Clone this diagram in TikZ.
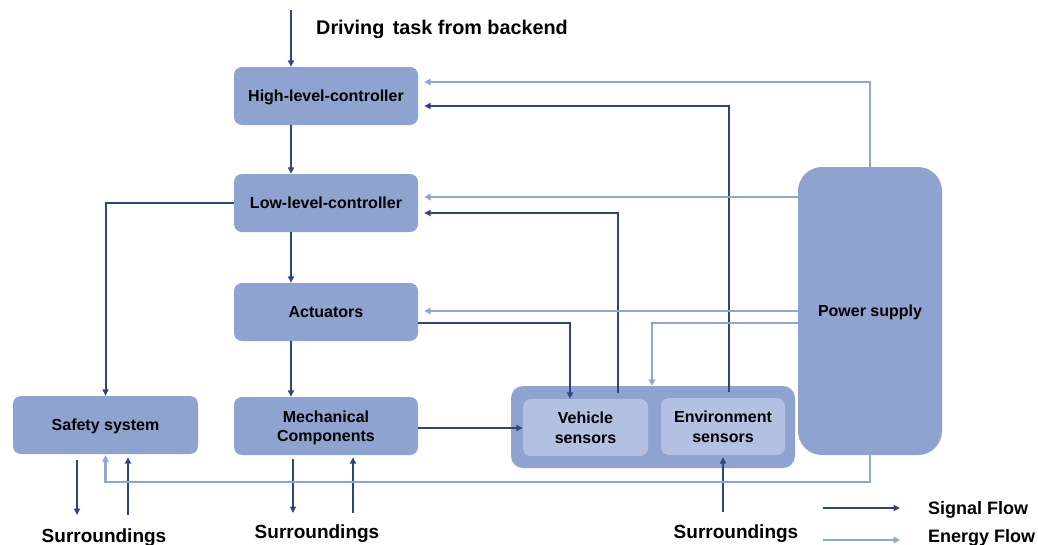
\documentclass[tikz,border=0pt]{standalone}
\usepackage{fontspec}
\setmainfont{Liberation Sans}
\usetikzlibrary{arrows.meta,calc}

\definecolor{boxblue}{RGB}{143,163,209}
\definecolor{innerblue}{RGB}{180,192,226}
\definecolor{sigcol}{RGB}{48,68,124}
\definecolor{encol}{RGB}{143,166,212}

\tikzset{
  box/.style={fill=boxblue, rounded corners=8pt, minimum width=184pt, minimum height=58pt,
    inner sep=0pt, align=center, text depth=0pt, font=\fontsize{16}{19.5}\selectfont\bfseries},
  innerbox/.style={box, fill=innerblue, minimum width=124pt, minimum height=57pt},
  signal/.style={draw=sigcol, line width=2pt, -{Triangle[length=6.5pt,width=6pt]}},
  energy/.style={draw=encol, line width=2.4pt, -{Triangle[length=6.5pt,width=6.5pt]}},
  biglabel/.style={font=\fontsize{19}{22}\selectfont\bfseries, inner sep=0pt},
  gap/.style={shorten >=6pt},
}

\begin{document}
\begin{tikzpicture}[x=1pt,y=-1pt]
\useasboundingbox (0,0) rectangle (1038,544);

% blocks
\node[box] (hlc) at (326,96) {High-level-controller};
\node[box] (llc) at (326,203) {Low-level-controller};
\node[box] (act) at (326,312) {Actuators};
\node[box] (mech) at (326,426) {Mechanical\\Components};
\node[box, minimum width=185pt] (safe) at (105.5,425) {Safety system};
\node[box, minimum width=284pt, minimum height=82pt, rounded corners=12pt] (sens) at (653,427) {};
\node[innerbox, minimum width=125pt] (vs) at (585.5,427.5) {Vehicle\\sensors};
\node[innerbox] (envs) at (723,426.5) {Environment\\sensors};
\node[box, minimum width=144pt, minimum height=288pt, rounded corners=24pt] (psu) at (870,311) {Power supply};

% texts
\node[biglabel, font=\fontsize{19.8}{22}\selectfont\bfseries, anchor=base west] (task) at (316,34) {Driving\hspace{0.15em} task from backend};
\node[biglabel, anchor=base] (sur1) at (104,542) {Surroundings};
\node[biglabel, anchor=base] (sur2) at (317,538) {Surroundings};
\node[biglabel, anchor=base] (sur3) at (736,538) {Surroundings};

% free ends
\coordinate (top) at (291,10);
\coordinate (s1a) at (77,515);
\coordinate (s1b) at (128,515);
\coordinate (s2a) at (293,513);
\coordinate (s2b) at (353,513);
\coordinate (s3) at (723,512);

% signal flow
\draw[signal] (top) -- (top |- hlc.north);
\draw[signal] ([xshift=-35pt]hlc.south) -- ([xshift=-35pt]llc.north);
\draw[signal] ([xshift=-35pt]llc.south) -- ([xshift=-35pt]act.north);
\draw[signal] ([xshift=-35pt]act.south) -- ([xshift=-35pt]mech.north);
\draw[signal] (llc.west) -| (safe.north);
\draw[signal] ([yshift=-11pt]act.east) -| ([xshift=-15.5pt]vs.north);
\draw[signal] ([yshift=-2pt]mech.east) -- ([yshift=-2pt]mech.east -| vs.west);
\draw[signal, gap] ([xshift=32.5pt,yshift=6pt]vs.north) |- ([yshift=-10pt]llc.east);
\draw[signal, gap] ([xshift=6pt,yshift=6pt]envs.north) |- ([yshift=-10pt]hlc.east);
\draw[signal] (s3) -- ([yshift=-2pt]envs.south);
\draw[signal, shorten <=6pt] (s1a |- safe.south) -- (s1a);
\draw[signal] (s1b) -- ([yshift=-3pt]s1b |- safe.south);
\draw[signal, shorten <=4pt] (s2a |- mech.south) -- (s2a);
\draw[signal] (s2b) -- ([yshift=-2pt]s2b |- mech.south);

% energy flow
\coordinate (llcE) at ([yshift=6pt]llc.east);
\coordinate (actE) at ([yshift=1pt]act.east);
\coordinate (eBus) at ([yshift=-28pt]safe.south);
\draw[energy, gap] (psu.north) |- ([yshift=14pt]hlc.east);
\draw[energy, gap] (llcE -| psu.west) -- (llcE);
\draw[energy, gap] (actE -| psu.west) -- (actE);
\draw[energy] ([yshift=-12pt]psu.west) -| ([xshift=-1pt]sens.north);
\draw[energy] (psu.south) -- (psu.south |- eBus) -- (eBus) -- ([yshift=-1pt]safe.south);

% legend
\coordinate (lgS) at (823,508);
\coordinate (lgSe) at (900,508);
\coordinate (lgE) at (823,540);
\coordinate (lgEe) at (900,540);
\draw[signal] (lgS) -- (lgSe);
\draw[energy] (lgE) -- (lgEe);
\node[biglabel, font=\fontsize{18}{22}\selectfont\bfseries, anchor=base west] (lsig) at (928,514) {Signal Flow};
\node[biglabel, font=\fontsize{18}{22}\selectfont\bfseries, anchor=base west] (len) at (928,542) {Energy Flow};
\end{tikzpicture}
\end{document}
